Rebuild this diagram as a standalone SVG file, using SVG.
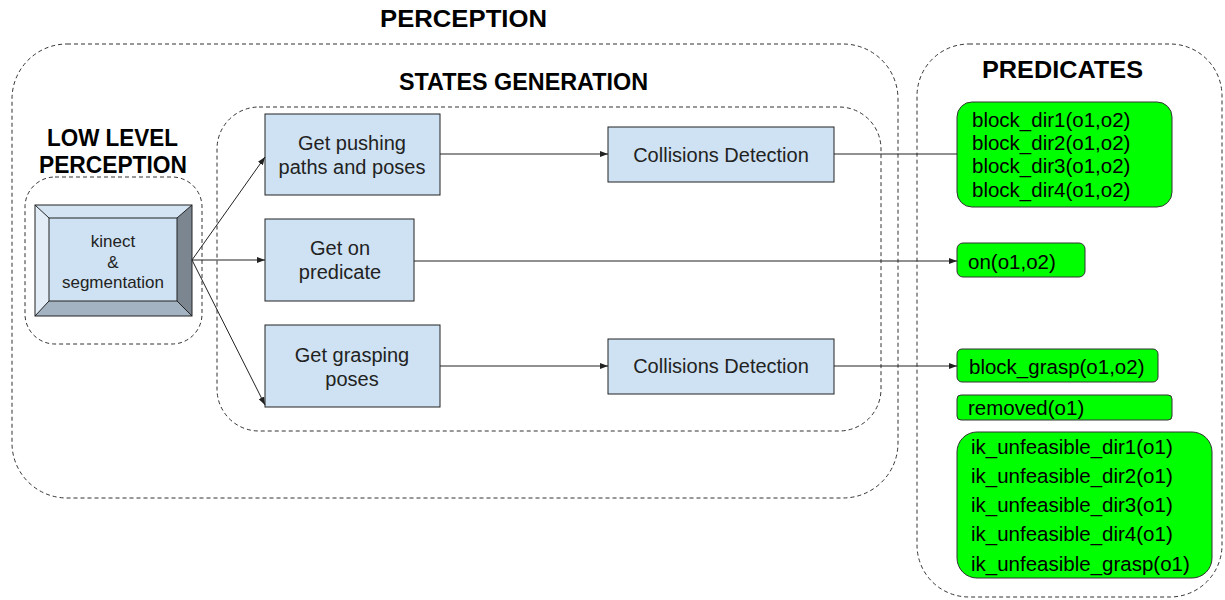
<svg xmlns="http://www.w3.org/2000/svg" width="1225" height="600" viewBox="0 0 1225 600">
<style>
.grp{fill:none;stroke:#333;stroke-width:1;stroke-dasharray:4,3}
.title{font-family:"Liberation Sans",Arial,sans-serif;font-weight:bold;font-size:23.5px;fill:#000;text-anchor:middle}
.box{fill:#cfe2f3;stroke:#222;stroke-width:1}
.pred{fill:#00ff00;stroke:#333;stroke-width:1}
.t{font-family:"Liberation Sans",Arial,sans-serif;font-size:20px;fill:#222;text-anchor:middle}
.pt{font-family:"Liberation Sans",Arial,sans-serif;font-size:20.5px;fill:#000}
.c{fill:none;stroke:#222;stroke-width:1}
</style>
<defs>
<marker id="ah" markerWidth="8" markerHeight="6" refX="8" refY="3" orient="auto" markerUnits="userSpaceOnUse">
<path d="M0,0 L8,3 L0,6 z" fill="#222"/>
</marker>
</defs>
<rect width="1225" height="600" fill="#fff"/>

<g id="perception">
<rect class="grp" x="12" y="44" width="886" height="454" rx="55" ry="55"/>
<text class="title" x="463.5" y="27" textLength="167" lengthAdjust="spacingAndGlyphs">PERCEPTION</text>
</g>
<g id="states-generation">
<rect class="grp" x="217" y="107" width="664" height="324" rx="42" ry="42"/>
<text class="title" x="523.5" y="90" textLength="249" lengthAdjust="spacingAndGlyphs">STATES GENERATION</text>
</g>
<g id="low-level-perception">
<rect class="grp" x="25" y="177" width="177" height="167" rx="30" ry="30"/>
<text class="title" x="112.5" y="146" textLength="131" lengthAdjust="spacingAndGlyphs">LOW LEVEL</text>
<text class="title" x="113" y="173" textLength="148" lengthAdjust="spacingAndGlyphs">PERCEPTION</text>
</g>
<g id="predicates-group">
<rect class="grp" x="917" y="44" width="305" height="553" rx="52" ry="52"/>
<text class="title" x="1062.5" y="78" textLength="161" lengthAdjust="spacingAndGlyphs">PREDICATES</text>
</g>

<g id="kinect">
<polygon points="35,205 192,205 177,218 49,218" fill="#d5e4f3"/>
<polygon points="35,205 49,218 49,301 35,316" fill="#e3edf7"/>
<polygon points="192,205 192,316 177,301 177,218" fill="#7b8691"/>
<polygon points="35,316 49,301 177,301 192,316" fill="#a4b3c2"/>
<rect x="49" y="218" width="128" height="83" fill="#cfe2f3" stroke="#222"/>
<rect x="35" y="205" width="157" height="111" fill="none" stroke="#222"/>
<line x1="35" y1="205" x2="49" y2="218" stroke="#222"/>
<line x1="192" y1="205" x2="177" y2="218" stroke="#222"/>
<line x1="35" y1="316" x2="49" y2="301" stroke="#222"/>
<line x1="192" y1="316" x2="177" y2="301" stroke="#222"/>
<text class="t" x="113" y="247" style="font-size:17px">kinect</text>
<text class="t" x="113" y="268" style="font-size:17px">&amp;</text>
<text class="t" x="113" y="288" style="font-size:17px">segmentation</text>
</g>

<g id="get-pushing">
<rect class="box" x="265" y="114" width="175" height="81"/>
<text class="t" x="352" y="150">Get pushing</text>
<text class="t" x="352" y="174">paths and poses</text>
</g>
<g id="collisions-1">
<rect class="box" x="608" y="127" width="226" height="55"/>
<text class="t" x="721" y="162">Collisions Detection</text>
</g>
<g id="get-on">
<rect class="box" x="265" y="219" width="149" height="82"/>
<text class="t" x="340" y="255">Get on</text>
<text class="t" x="340" y="279">predicate</text>
</g>
<g id="get-grasping">
<rect class="box" x="265" y="325" width="175" height="82"/>
<text class="t" x="352" y="362">Get grasping</text>
<text class="t" x="352" y="386">poses</text>
</g>
<g id="collisions-2">
<rect class="box" x="608" y="339" width="226" height="55"/>
<text class="t" x="721" y="373">Collisions Detection</text>
</g>

<g id="pred-block">
<rect class="pred" x="957" y="102" width="215" height="105" rx="15" ry="15"/>
<text class="pt" x="972" y="127">block_dir1(o1,o2)</text>
<text class="pt" x="972" y="150">block_dir2(o1,o2)</text>
<text class="pt" x="972" y="173">block_dir3(o1,o2)</text>
<text class="pt" x="972" y="197">block_dir4(o1,o2)</text>
</g>
<g id="pred-on">
<rect class="pred" x="957" y="243" width="128" height="34" rx="6" ry="6"/>
<text class="pt" x="968" y="269">on(o1,o2)</text>
</g>
<g id="pred-block-grasp">
<rect class="pred" x="957" y="349" width="201" height="33" rx="5" ry="5"/>
<text class="pt" x="969" y="374">block_grasp(o1,o2)</text>
</g>
<g id="pred-removed">
<rect class="pred" x="957" y="395" width="215" height="25" rx="4" ry="4"/>
<text class="pt" x="968" y="415">removed(o1)</text>
</g>
<g id="pred-ik">
<rect class="pred" x="957" y="432" width="255" height="146" rx="20" ry="20"/>
<text class="pt" x="971" y="454">ik_unfeasible_dir1(o1)</text>
<text class="pt" x="971" y="483">ik_unfeasible_dir2(o1)</text>
<text class="pt" x="971" y="512">ik_unfeasible_dir3(o1)</text>
<text class="pt" x="971" y="541">ik_unfeasible_dir4(o1)</text>
<text class="pt" x="971" y="571">ik_unfeasible_grasp(o1)</text>
</g>

<g id="connectors">
<line class="c" x1="192" y1="260" x2="265" y2="157" marker-end="url(#ah)"/>
<line class="c" x1="192" y1="260" x2="265" y2="260" marker-end="url(#ah)"/>
<line class="c" x1="192" y1="260" x2="265" y2="405" marker-end="url(#ah)"/>
<line class="c" x1="440" y1="154" x2="608" y2="154" marker-end="url(#ah)"/>
<line class="c" x1="834" y1="154" x2="957" y2="154"/>
<line class="c" x1="414" y1="261" x2="957" y2="261" marker-end="url(#ah)"/>
<line class="c" x1="440" y1="366" x2="608" y2="366" marker-end="url(#ah)"/>
<line class="c" x1="834" y1="366" x2="957" y2="366" marker-end="url(#ah)"/>
</g>
</svg>
